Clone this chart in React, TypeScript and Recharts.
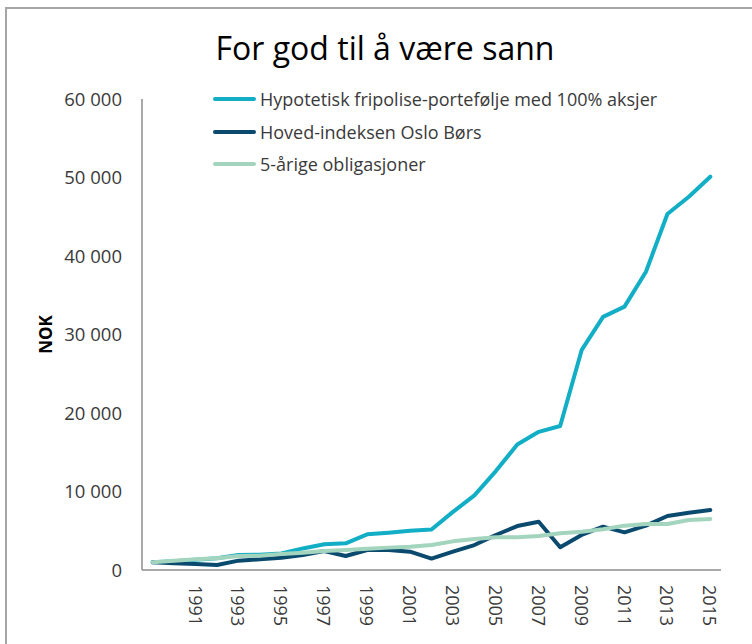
import { LineChart, Line, XAxis, YAxis, Legend } from "recharts";

const years = [
  1989, 1990, 1991, 1992, 1993, 1994, 1995, 1996, 1997, 1998, 1999, 2000, 2001, 2002,
  2003, 2004, 2005, 2006, 2007, 2008, 2009, 2010, 2011, 2012, 2013, 2014, 2015,
];

// Hypotetisk fripolise-portefølje med 100% aksjer
const portfolio = [
  1000, 1100, 1300, 1500, 1900, 1950, 2100, 2750, 3270, 3400, 4550, 4750, 5000, 5150,
  7400, 9500, 12600, 16000, 17600, 18350, 28000, 32250, 33550, 38000, 45350, 47550, 50100,
];

// Hoved-indeksen Oslo Børs
const osebx = [
  980, 850, 760, 640, 1190, 1360, 1570, 1910, 2420, 1780, 2550, 2550, 2330, 1450,
  2330, 3180, 4460, 5600, 6150, 2900, 4460, 5520, 4800, 5650, 6880, 7300, 7640,
];

// 5-årige obligasjoner
const bonds = [
  1000, 1190, 1360, 1490, 1780, 1820, 2040, 2200, 2420, 2550, 2720, 2850, 2970, 3180,
  3650, 3950, 4160, 4160, 4330, 4670, 4880, 5180, 5650, 5860, 5860, 6370, 6500,
];

const yTicks = [0, 10000, 20000, 30000, 40000, 50000, 60000];
const xLabels = [1991, 1993, 1995, 1997, 1999, 2001, 2003, 2005, 2007, 2009, 2011, 2013, 2015];

const series = [
  { key: "portfolio", name: "Hypotetisk fripolise-portefølje med 100% aksjer", color: "#12AEC6" },
  { key: "osebx", name: "Hoved-indeksen Oslo Børs", color: "#0B4A6F" },
  { key: "bonds", name: "5-årige obligasjoner", color: "#A2D4BE" },
];

const data = years.map((year, i) => ({
  year,
  portfolio: portfolio[i],
  osebx: osebx[i],
  bonds: bonds[i],
}));

const FONT = '"Open Sans", sans-serif';
const TEXT = "#3a3a3a";

function formatNok(v: number): string {
  return v === 0 ? "0" : `${Math.floor(v / 1000)} ${String(v % 1000).padStart(3, "0")}`;
}

// eslint-disable-next-line @typescript-eslint/no-explicit-any
const YearTick = ({ x, y, payload }: any) => {
  if (!xLabels.includes(Number(payload.value))) return null;
  return (
    <text
      x={x}
      y={y}
      transform={`rotate(90, ${x}, ${y})`}
      textAnchor="start"
      dominantBaseline="central"
      fill={TEXT}
      fontSize={18}
      fontFamily={FONT}
    >
      {payload.value}
    </text>
  );
};

// eslint-disable-next-line @typescript-eslint/no-explicit-any
const NokLabel = ({ viewBox }: any) => {
  const cy = viewBox.y + viewBox.height / 2;
  return (
    <text
      x={45}
      y={cy}
      transform={`rotate(-90, 45, ${cy})`}
      textAnchor="middle"
      dominantBaseline="central"
      fontSize={17}
      fontWeight="bold"
      fontFamily={FONT}
      fill="#000"
    >
      NOK
    </text>
  );
};

const LegendBox = () => (
  <div style={{ fontFamily: FONT, fontSize: 18, color: TEXT }}>
    {series.map((s) => (
      <div key={s.key} style={{ display: "flex", alignItems: "center", height: 32.5 }}>
        <span
          style={{
            display: "inline-block",
            width: 43,
            height: 4,
            borderRadius: 2,
            background: s.color,
            marginRight: 4,
          }}
        />
        <span style={{ whiteSpace: "nowrap" }}>{s.name}</span>
      </div>
    ))}
  </div>
);

export default function App() {
  return (
    <div
      style={{
        position: "absolute",
        left: 0,
        top: 0,
        width: 752,
        height: 644,
        overflow: "hidden",
        background: "#fff",
      }}
    >
      <div
        style={{
          position: "absolute",
          left: 5,
          top: 7,
          width: 800,
          height: 700,
          border: "2px solid #a6a6a6",
        }}
      />
      <div
        style={{
          position: "absolute",
          left: 0,
          top: 28,
          width: 770,
          textAlign: "center",
          fontFamily: FONT,
          fontSize: 32,
          lineHeight: "40px",
          color: "#000",
        }}
      >
        For god til å være sann
      </div>
      <div style={{ position: "absolute", left: 0, top: 0 }}>
        <LineChart
          width={752}
          height={644}
          data={data}
          margin={{ top: 99, right: 31, left: 0, bottom: 0 }}
        >
          <XAxis
            dataKey="year"
            interval={0}
            height={74}
            padding={{ left: 10.7, right: 10.7 }}
            axisLine={{ stroke: "#8c8c8c", strokeWidth: 1.5 }}
            tickLine={false}
            tickSize={0}
            tickMargin={15}
            tick={<YearTick />}
          />
          <YAxis
            width={142}
            domain={[0, 60000]}
            ticks={yTicks}
            tickFormatter={formatNok}
            axisLine={{ stroke: "#8c8c8c", strokeWidth: 1.5 }}
            tickLine={false}
            tickSize={0}
            tickMargin={20}
            tick={{ fill: TEXT, fontSize: 18.5, fontFamily: FONT }}
            label={<NokLabel />}
          />
          <Legend
            layout="vertical"
            align="center"
            verticalAlign="middle"
            wrapperStyle={{ left: 213, top: 83, width: 500 }}
            content={<LegendBox />}
          />
          {series.map((s) => (
            <Line
              key={s.key}
              type="linear"
              dataKey={s.key}
              name={s.name}
              stroke={s.color}
              strokeWidth={4}
              strokeLinejoin="round"
              strokeLinecap="round"
              dot={false}
              activeDot={false}
              isAnimationActive={false}
            />
          ))}
        </LineChart>
      </div>
    </div>
  );
}
